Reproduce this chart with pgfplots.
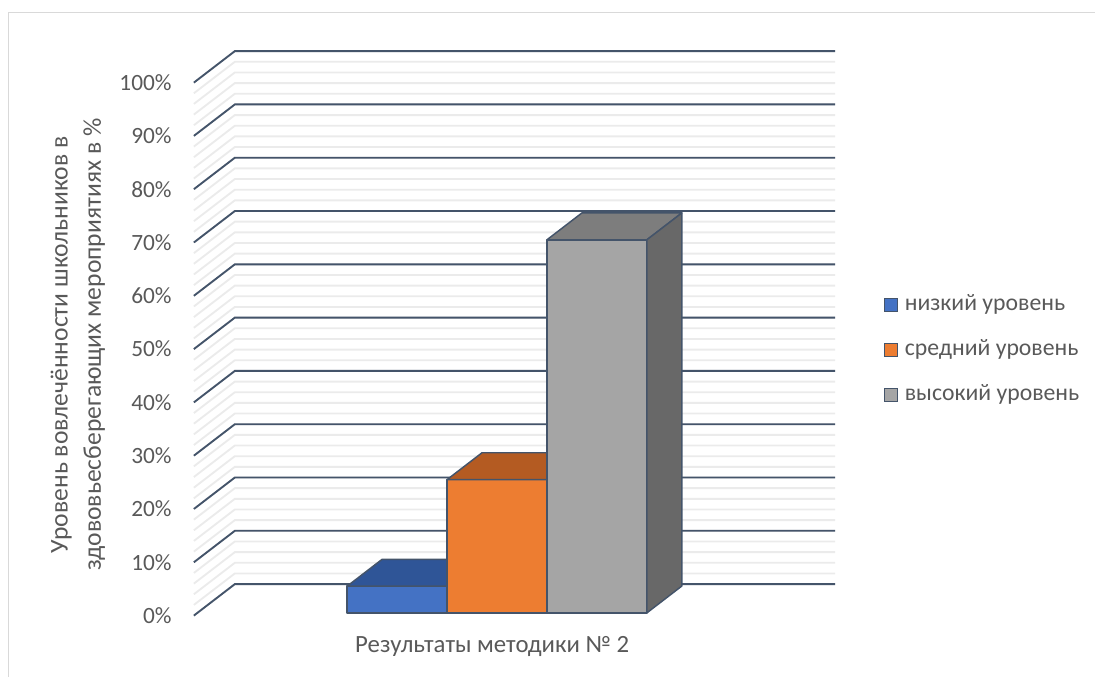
\documentclass[border=0pt]{standalone}
\usepackage{pgfplots}
\pgfplotsset{compat=1.18}
\usepackage{fontspec}
\setmainfont{Carlito}

\definecolor{edge}{HTML}{44546A}
\definecolor{txt}{HTML}{595959}
\definecolor{minorgrid}{HTML}{EBEBEB}
\definecolor{framecol}{HTML}{D9D9D9}
\definecolor{lowfront}{HTML}{4472C4}
\definecolor{lowtop}{HTML}{2F5597}
\definecolor{lowside}{HTML}{264478}
\definecolor{midfront}{HTML}{ED7D31}
\definecolor{midtop}{HTML}{B45B22}
\definecolor{midside}{HTML}{9E480E}
\definecolor{highfront}{HTML}{A5A5A5}
\definecolor{hightop}{HTML}{7D7D7D}
\definecolor{highside}{HTML}{686868}

% one 3-D column: x0, x1, value, front, top and side colours
\newcommand{\cuboid}[6]{%
  \addplot3[fill=#4, draw=edge, line width=1.1pt, line join=round, forget plot]
    coordinates {(#1,0.086,0) (#2,0.086,0) (#2,0.086,#3) (#1,0.086,#3)} -- cycle;
  \addplot3[fill=#5, draw=edge, line width=1.1pt, line join=round, forget plot]
    coordinates {(#1,0.086,#3) (#2,0.086,#3) (#2,0.94,#3) (#1,0.94,#3)} -- cycle;
  \addplot3[fill=#6, draw=edge, line width=1.1pt, line join=round, forget plot]
    coordinates {(#2,0.086,0) (#2,0.94,0) (#2,0.94,#3) (#2,0.086,#3)} -- cycle;
}

\begin{document}
\begin{tikzpicture}[font=\fontsize{17.5}{24}\selectfont]
\begin{axis}[
  x={(75pt,0pt)}, y={(30.75pt,23.625pt)}, z={(0pt,4pt)},
  xmin=-1.498, xmax=4.509, ymin=0, ymax=1, zmin=0, zmax=100,
  hide axis, clip=false,
  legend cell align=left,
  legend image code/.code={\draw[#1, draw=edge, line width=0.9pt] (0pt,-4.9pt) rectangle (9.75pt,4.9pt);},
  legend style={at={(axis cs:5.402,0,60.375)}, anchor=north west,
    draw=none, fill=none, inner sep=0pt, text=txt,
    font=\fontsize{17.8}{24}\selectfont, row sep=17.75pt,
    nodes={inner xsep=5.25pt, inner ysep=0pt, text height=12.5pt, text depth=3.5pt}},
]
% light minor grid every 2 %
\pgfplotsinvokeforeach{0,2,...,100}{
  \addplot3[minorgrid, line width=1.4pt, forget plot]
    coordinates {(-1.498,0,#1) (-1.498,1,#1) (4.509,1,#1)};
}
% major grid every 10 %
\pgfplotsinvokeforeach{0,10,...,100}{
  \addplot3[edge, line width=1.4pt, forget plot]
    coordinates {(-1.498,0,#1) (-1.498,1,#1) (4.509,1,#1)};
  \node[anchor=east, text=txt, inner sep=0pt] at (axis cs:-1.718,0,#1) {#1\%};
}

% columns: низкий 5 %, средний 25 %, высокий 70 %
\cuboid{0}{1}{5}{lowfront}{lowtop}{lowside}
\cuboid{1}{2}{25}{midfront}{midtop}{midside}
\cuboid{2}{3}{70}{highfront}{hightop}{highside}

\addlegendimage{fill=lowfront}
\addlegendentry{низкий уровень}
\addlegendimage{fill=midfront}
\addlegendentry{средний уровень}
\addlegendimage{fill=highfront}
\addlegendentry{высокий уровень}

% axis titles
\node[text=txt, font=\fontsize{18.6}{24}\selectfont] at (axis cs:1.487,0,-5.81) {Результаты методики № 2};
\node[text=txt, rotate=90, align=center, font=\fontsize{19.2}{25}\selectfont] at (axis cs:-2.658,0,50.8)
  {Уровень вовлечённости школьников в\\здововьесберегающих мероприятиях в \%};

% chart frame and page extent
\draw[framecol, line width=1.1pt] (axis cs:-3.355,0,-11.44) -- (axis cs:-3.355,0,113.12) -- (axis cs:7.522,0,113.12);
\path (axis cs:-3.438,0,-11.44) rectangle (axis cs:7.522,0,115.5);
\end{axis}
\end{tikzpicture}
\end{document}
